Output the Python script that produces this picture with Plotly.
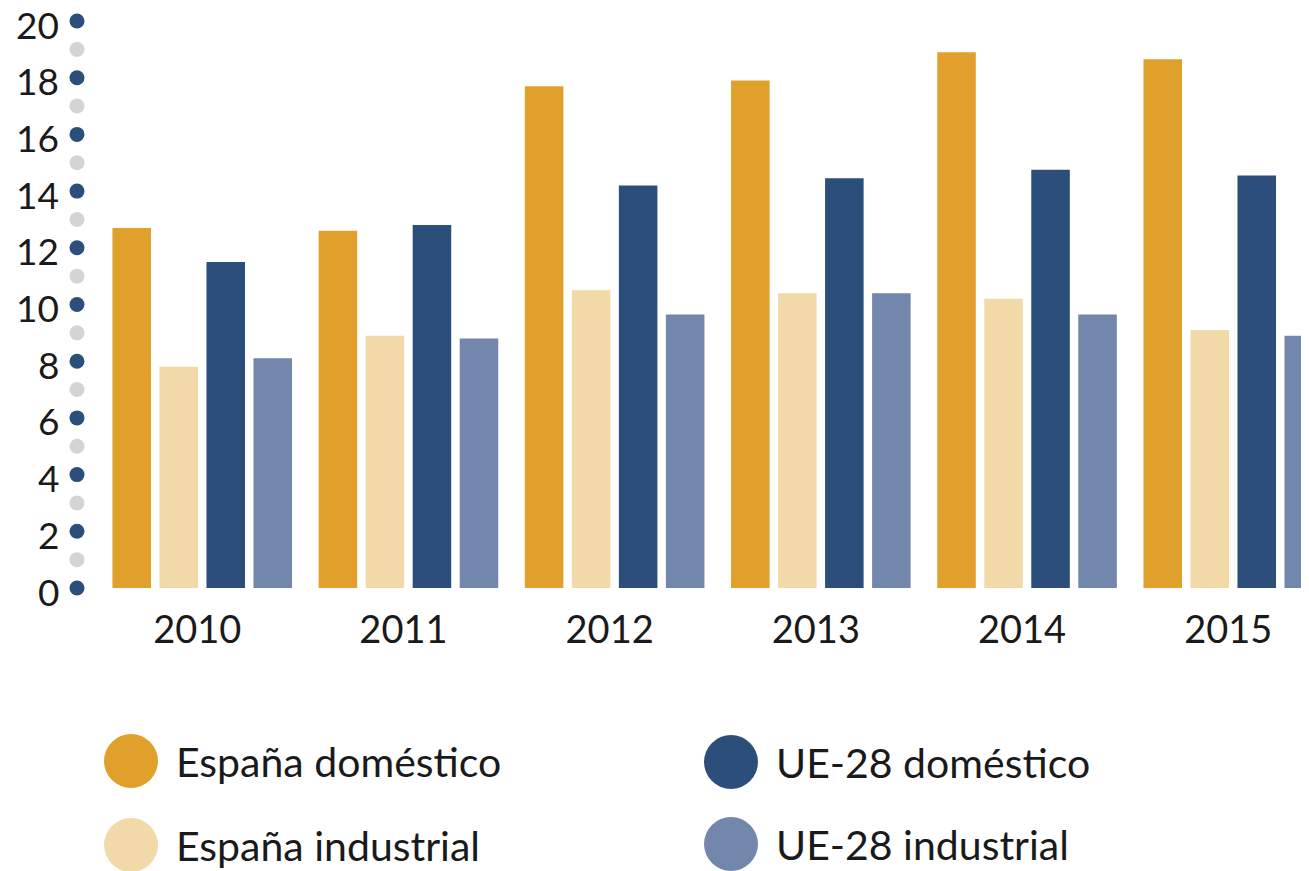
import plotly.graph_objects as go

years = ["2010", "2011", "2012", "2013", "2014", "2015"]
espana_domestico = [12.7, 12.6, 17.7, 17.9, 18.9, 18.65]
espana_industrial = [7.8, 8.9, 10.5, 10.4, 10.2, 9.1]
ue28_domestico = [11.5, 12.8, 14.2, 14.45, 14.75, 14.55]
ue28_industrial = [8.1, 8.8, 9.65, 10.4, 9.65, 8.9]

series_names = ["España doméstico", "España industrial", "UE-28 doméstico", "UE-28 industrial"]
series_values = [espana_domestico, espana_industrial, ue28_domestico, ue28_industrial]
colors = ["#E0A02B", "#F1DAA8", "#2C4E7B", "#7386AC"]

y_ticks = list(range(0, 21, 2))
y_tick_labels = [str(v) for v in y_ticks]
dot_values = list(range(0, 21))

FONT = "Lato"
xpos = list(range(len(years)))

fig = go.Figure()
for name, vals, col in zip(series_names, series_values, colors):
    fig.add_trace(go.Bar(x=xpos, y=vals, name=name, marker=dict(color=col, line=dict(width=0)),
                         showlegend=False))

# axis dots
fig.add_trace(go.Scatter(
    x=[-0.6074] * len(dot_values), y=dot_values, mode="markers", cliponaxis=False,
    marker=dict(size=15, color=["#2C4E7B" if v % 2 == 0 else "#D4D4D4" for v in dot_values],
                line=dict(width=0)),
    showlegend=False, hoverinfo="skip"))

# y tick labels
for v, lab in zip(y_ticks, y_tick_labels):
    fig.add_annotation(xref="x", yref="y", x=-0.683, y=v, text=lab, showarrow=False,
                       xanchor="right", yanchor="middle", yshift=-3,
                       font=dict(size=37, family=FONT, color="#1a1a1a"))

fig.update_layout(
    width=1301, height=863,
    margin=dict(l=0, r=0, t=13, b=283),
    paper_bgcolor="white", plot_bgcolor="white",
    barmode="group", bargap=0.088, bargroupgap=0.18,
    font=dict(family=FONT, color="#1a1a1a"),
    xaxis=dict(range=[-0.942, 5.3674], tickmode="array", tickvals=xpos, ticktext=years,
               showgrid=False, zeroline=False, showline=False, ticks="",
               tickfont=dict(size=38, family=FONT, color="#1a1a1a"), ticklabelstandoff=16,
               ticklabelshift=-5),
    yaxis=dict(range=[0, 20], showticklabels=False,
               showgrid=False, zeroline=False, showline=False, ticks=""),
)

# custom legend (paper coords: plot area spans screen x 8..1309, y 21..588)
def px_to_paper_x(px):
    return (px - 8) / 1301

def px_to_paper_y(py):
    return (588 - py) / 567

legend_px = [(131, 761), (131, 845), (731, 762), (731, 844)]
for (cx, cy), name, col in zip(legend_px, series_names, colors):
    lx, ly = px_to_paper_x(cx), px_to_paper_y(cy)
    fig.add_shape(type="circle", xref="paper", yref="paper", xsizemode="pixel", ysizemode="pixel",
                  xanchor=lx, yanchor=ly, x0=-27, x1=27, y0=-27, y1=27,
                  fillcolor=col, line=dict(width=0))
    fig.add_annotation(xref="paper", yref="paper", x=px_to_paper_x(cx + 43), y=ly, text=name,
                       showarrow=False, xanchor="left", yanchor="middle",
                       font=dict(size=41, family=FONT, color="#1a1a1a"))

fig.write_html("out.html")
